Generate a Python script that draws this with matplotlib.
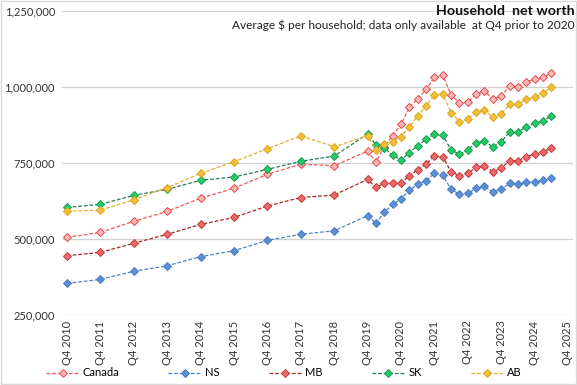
import matplotlib
matplotlib.use("Agg")
import matplotlib.pyplot as plt
from matplotlib.lines import Line2D

plt.rcParams['font.family'] = ['Lato', 'DejaVu Sans']

periods = ["Q4 2010", "Q4 2011", "Q4 2012", "Q4 2013", "Q4 2014", "Q4 2015",
           "Q4 2016", "Q4 2017", "Q4 2018", "Q4 2019",
           "Q1 2020", "Q2 2020", "Q3 2020", "Q4 2020",
           "Q1 2021", "Q2 2021", "Q3 2021", "Q4 2021",
           "Q1 2022", "Q2 2022", "Q3 2022", "Q4 2022",
           "Q1 2023", "Q2 2023", "Q3 2023", "Q4 2023",
           "Q1 2024", "Q2 2024", "Q3 2024", "Q4 2024",
           "Q1 2025", "Q2 2025"]

canada = [505600, 522000, 558000, 591000, 634000, 667000, 713000, 746000, 741000, 789000,
          754000, 803600, 840000, 877000,
          933000, 961600, 992000, 1032000,
          1039000, 973700, 948000, 950600,
          976000, 988000, 959600, 970000,
          1003000, 1001000, 1017000, 1026000,
          1032000, 1045000]
ns = [354000, 367000, 394000, 412000, 442000, 461500, 495600, 515500, 527000, 576700,
      551600, 587800, 614000, 630600,
      661000, 680000, 690800, 716000,
      709500, 663500, 647000, 650000,
      667000, 674000, 653600, 663500,
      683000, 680000, 686500, 688500,
      693000, 699600]
mb = [445000, 456000, 486000, 515500, 548000, 571000, 608500, 636500, 644700, 696000,
      670000, 683000, 683000, 683000,
      708000, 727000, 746000, 773000,
      770700, 721000, 708000, 716000,
      736000, 741000, 721000, 732600,
      757600, 757600, 770700, 779600,
      787000, 798000]
sk = [604000, 614000, 643700, 663500, 693000, 704000, 729000, 755600, 773000, 845000,
      809000, 800000, 775000, 760000,
      784000, 807000, 828000, 845000,
      841000, 793000, 778600, 793000,
      817000, 821000, 803600, 820000,
      851000, 851000, 869000, 880600,
      888000, 904600]
ab = [591000, 595000, 629000, 669000, 716000, 754000, 797000, 839000, 803600, 839000,
      793000, 811500, 820000, 836600,
      869000, 905600, 937500, 973700,
      977000, 915500, 886000, 894700,
      916700, 924000, 900000, 911000,
      943000, 943000, 959600, 968000,
      979000, 999000]

tick_labels = ["Q4 %d" % y for y in range(2010, 2026)]
ytick_values = [250000, 500000, 750000, 1000000, 1250000]

def qindex(p):
    q, y = p.split()
    return (int(y) - 2010) * 4 + (int(q[1]) - 4)

x = [qindex(p) for p in periods]

series = [
    ("Canada", canada, "#f05a5a", "#fbb8b8", "#e8474a"),
    ("NS", ns, "#4a86c8", "#5b8fd6", "#4a7cc0"),
    ("MB", mb, "#a82828", "#ea6a6a", "#c83a3a"),
    ("SK", sk, "#2a7a5a", "#22cc66", "#1a9a50"),
    ("AB", ab, "#e0b030", "#f2c037", "#d9a520"),
]

fig = plt.figure(figsize=(5.77, 3.85), dpi=100)
ax = fig.add_axes([62/577, 70/385, 511/577, 304/385])

handles = []
for name, vals, lc, fc, ec in series:
    ax.plot(x, vals, linestyle=(0, (3, 1.5)), linewidth=0.9, color=lc,
            marker='D', markersize=4.2, markerfacecolor=fc, markeredgecolor=ec,
            markeredgewidth=0.7, zorder=3)
    handles.append(Line2D([0], [0], linestyle=(0, (3, 1.5)), linewidth=0.9, color=lc,
                          marker='D', markersize=3.6, markerfacecolor=fc,
                          markeredgecolor=ec, markeredgewidth=0.7))

ax.set_ylim(250000, 1250000)
ax.set_xlim(-0.6, 60.6)
ax.set_yticks(ytick_values)
ax.set_yticklabels(["{:,}".format(v) for v in ytick_values], fontsize=8, color="#333333")
ax.set_xticks(range(0, 61, 4))
ax.set_xticklabels(tick_labels, rotation=90, fontsize=8, color="#333333")
ax.tick_params(axis='both', length=0, pad=5)
ax.tick_params(axis='x', pad=4)
ax.grid(axis='y', color="#d0d0d0", linewidth=0.9)
ax.set_axisbelow(True)
for s in ax.spines.values():
    s.set_visible(False)

fig.text(575/577, 1 - 11/385, "Household  net worth", ha='right', va='center',
         fontsize=10.3, fontweight='bold', color="#111111")
fig.text(575/577, 1 - 25/385, "Average $ per household; data only available  at Q4 prior to 2020",
         ha='right', va='center', fontsize=8.6, color="#222222")

fig.legend(handles, [s[0] for s in series], loc='center', bbox_to_anchor=(284/577, 1 - 373/385),
           ncol=5, frameon=False, fontsize=8, handlelength=3.0, columnspacing=4.4,
           handletextpad=0.3)

fig.patches.append(plt.Rectangle((0.001, 0.002), 0.997, 0.996, transform=fig.transFigure,
                                 fill=False, edgecolor="#d9d9d9", linewidth=1))

fig.savefig("out.png", dpi=100)
